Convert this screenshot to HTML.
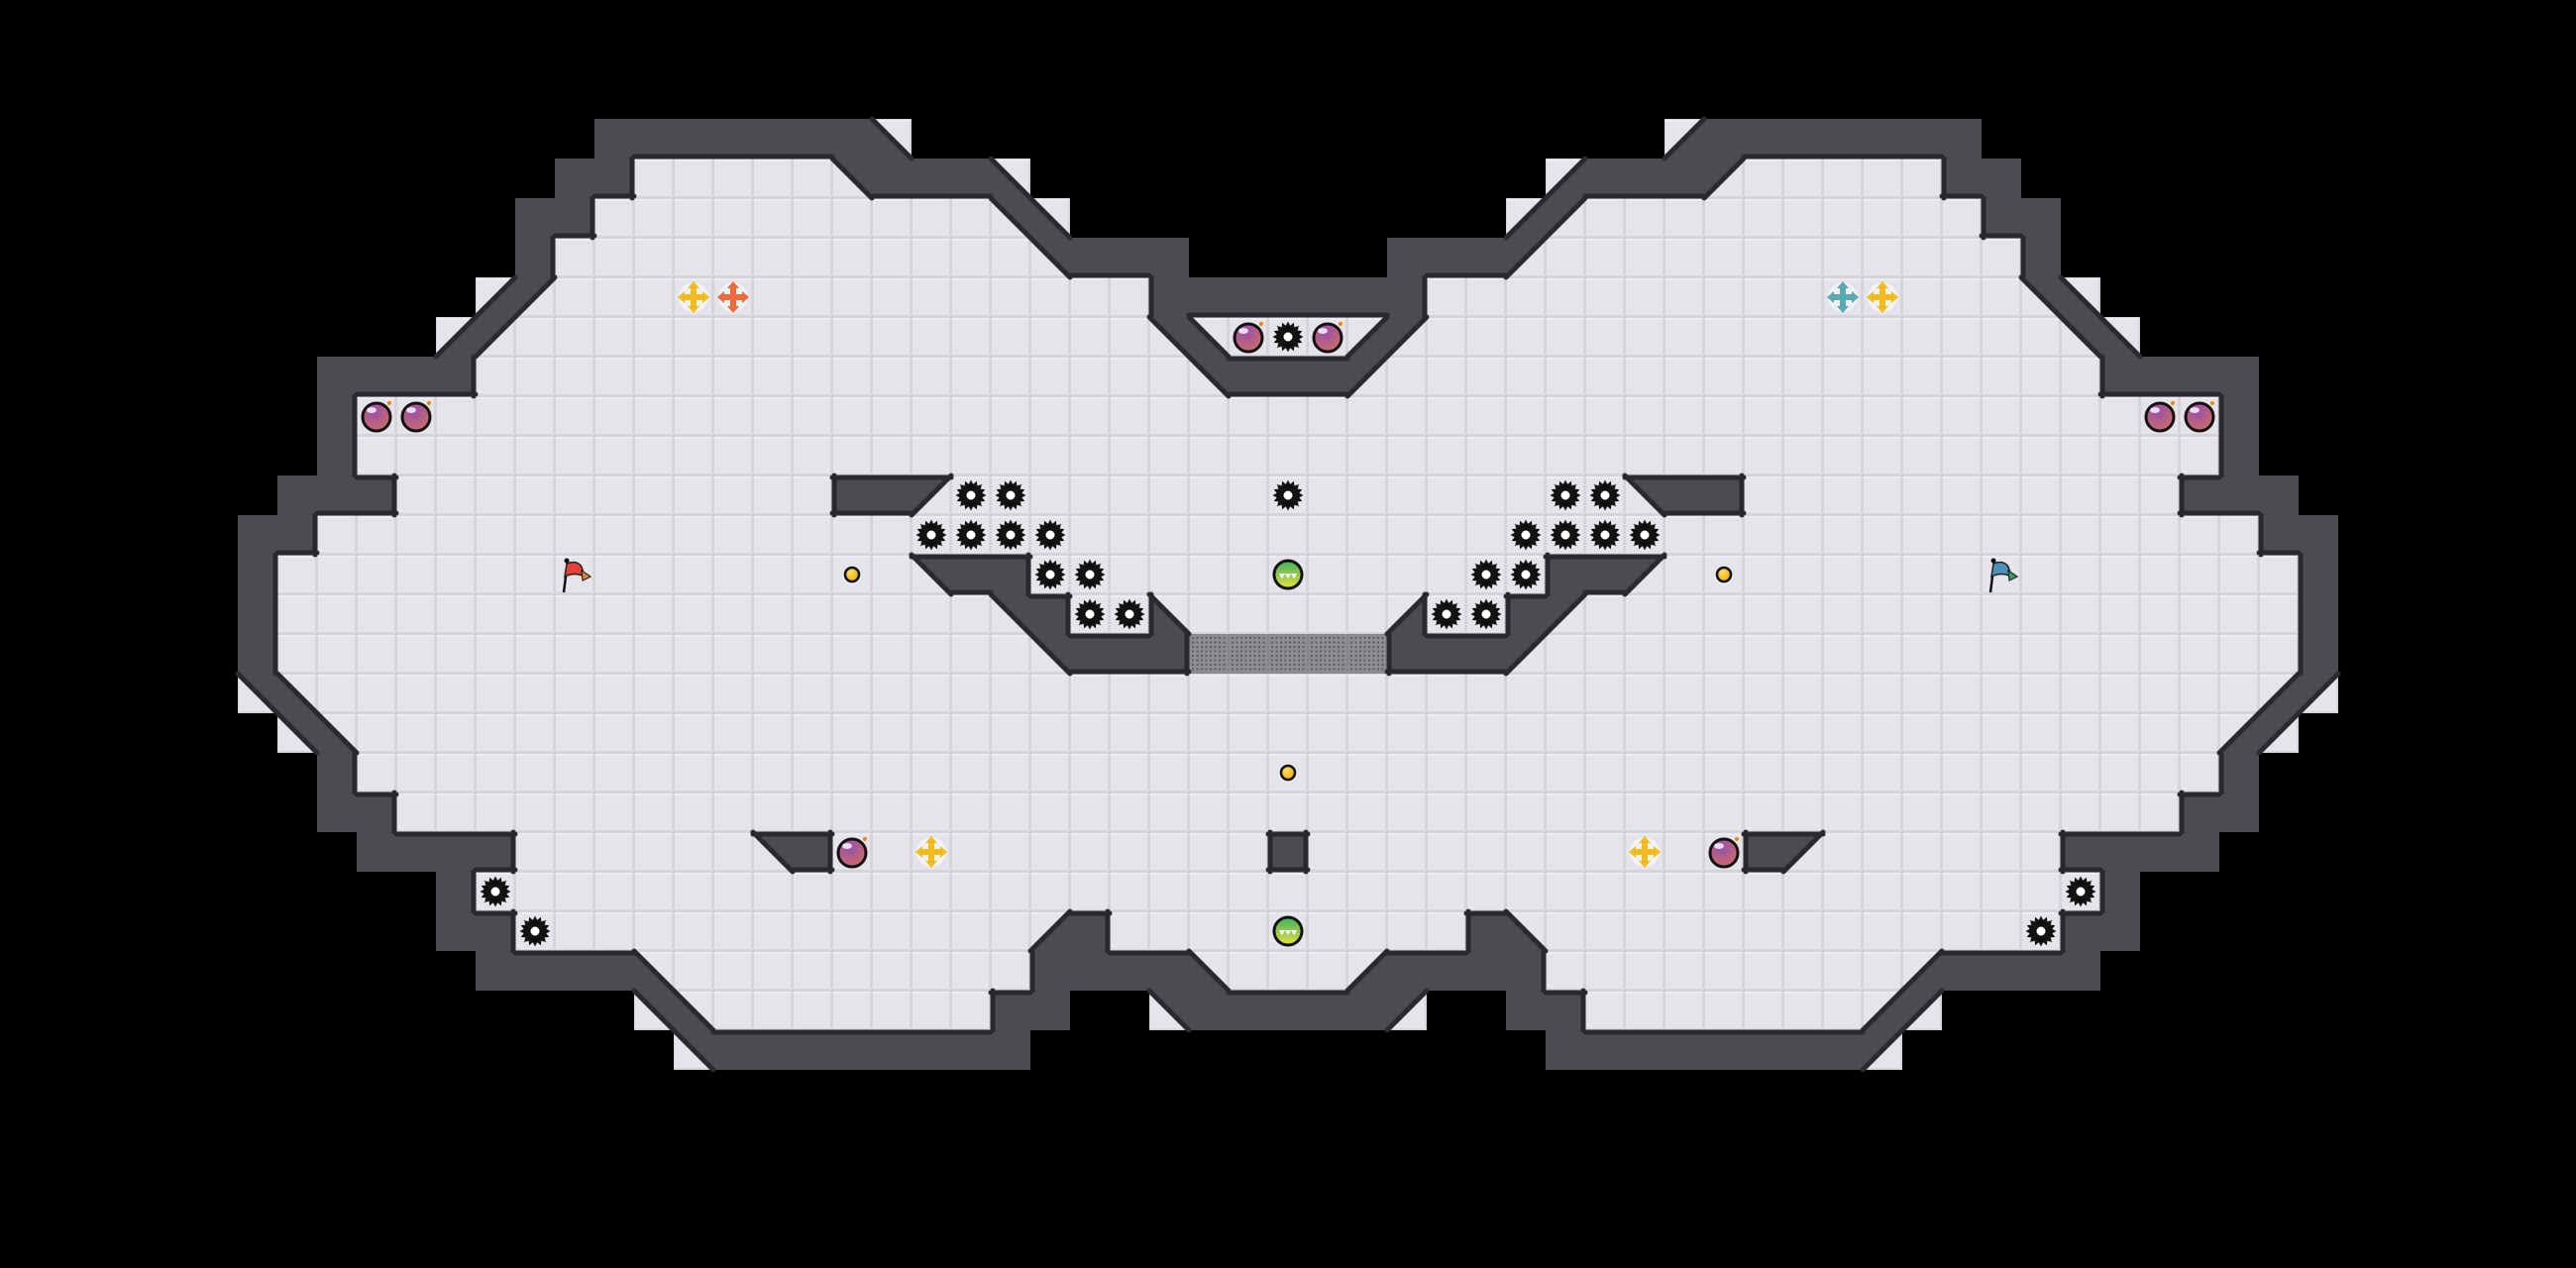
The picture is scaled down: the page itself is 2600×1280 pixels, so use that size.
<!DOCTYPE html>
<html><head><meta charset="utf-8"><style>
html,body{margin:0;padding:0;background:#000;width:2600px;height:1280px;overflow:hidden}
svg{display:block}
</style></head><body>
<svg id="s" xmlns="http://www.w3.org/2000/svg" width="2600" height="1280" viewBox="0 0 2600 1280">
<defs>
<pattern id="fl" patternUnits="userSpaceOnUse" width="40" height="40">
<rect width="40" height="40" fill="#d4d4d9"/>
<rect x="1" y="1" width="37" height="37" fill="#e4e4e9"/>
<rect x="1" y="1" width="37" height="2" fill="#ececf0"/>
</pattern>
<pattern id="gd" patternUnits="userSpaceOnUse" width="4.5" height="4.5" x="2" y="2">
<rect width="4.5" height="4.5" fill="#8e8e92"/>
<rect x="1" y="1" width="2" height="2" fill="#5e5e62"/>
</pattern>
<pattern id="gr" patternUnits="userSpaceOnUse" width="40" height="40">
<rect width="40" height="40" fill="#8a8a8e"/>
<rect x="2" y="2" width="36" height="36" fill="url(#gd)"/>
</pattern>
<radialGradient id="bomb" cx="0.4" cy="0.3" r="0.8"><stop offset="0" stop-color="#9a4fb0"/><stop offset="1" stop-color="#d0705a"/></radialGradient>
<linearGradient id="grn" x1="0" y1="0" x2="0" y2="1"><stop offset="0" stop-color="#3fb060"/><stop offset="1" stop-color="#e8e040"/></linearGradient>
<radialGradient id="dot" cx="0.4" cy="0.35" r="0.7"><stop offset="0" stop-color="#ffe060"/><stop offset="1" stop-color="#e8a800"/></radialGradient>
</defs>
<rect width="2600" height="1280" fill="#000"/>
<g id="floor"></g><g id="walls"></g><g id="lines"></g><g id="items"></g>
</svg>
<script>
var E="                                 ";
var L=[E,E,E,
"               #######b          ",
"              ##.....p###b       ",
"             ##..........pb      ",
"             #............p###   ",
"            dq...............####",
"           dq................pb..",
"        ####..................p##",
"        #........................",
"        #........................",
"       ###...........##q.........",
"      ##.........................",
"      #................p##.......",
"      #..................p#..b...",
"      #...................p###ggg",
"      pb.........................",
"       pb........................",
"        #........................",
"        ##.......................",
"         ####......p#...........#",
"           #.....................",
"           ##.............d#.....",
"            ####b.........####b..",
"                pb.......##  p###",
"                 p########       ",
E,E,E,E,E];
var W=65,H=32,T=40;
var SW={b:'d',d:'b',p:'q',q:'p'};
function get(r,c){if(r<0||r>=H||c<0||c>=W)return ' ';var row=L[r];var ch;
 if(c<=32){ch=row[c]||' ';}else{ch=row[64-c]||' ';ch=SW[ch]||ch;}return ch;}
var WE={'#':'trbl',p:'tr',q:'tl',b:'bl',d:'br'};
var fs='',ws='',ls='';
function poly(pts,fill){return '<polygon points="'+pts.map(function(p){return p[0]+','+p[1]}).join(' ')+'" fill="'+fill+'"/>';}
function line(x1,y1,x2,y2){return '<line x1="'+x1+'" y1="'+y1+'" x2="'+x2+'" y2="'+y2+'" stroke="#2a2a2e" stroke-width="5" stroke-linecap="round"/>';}
var WC='#4b4b50';
for(var r=0;r<H;r++)for(var c=0;c<W;c++){
 var ch=get(r,c),x=c*T,y=r*T;
 if(ch==' ')continue;
 var A=[x,y],B=[x+T,y],C=[x+T,y+T],D=[x,y+T];
 if(ch=='.'){fs+='<rect x="'+x+'" y="'+y+'" width="40" height="40" fill="url(#fl)"/>';continue;}
 if(ch=='g'){fs+='<rect x="'+x+'" y="'+y+'" width="40" height="40" fill="url(#gr)"/>';continue;}
 if(ch=='#'){ws+='<rect x="'+x+'" y="'+y+'" width="40" height="40" fill="'+WC+'"/>';}
 else if(ch=='p'){fs+=poly([A,D,C],'url(#fl)');ws+=poly([A,B,C],WC);ls+=line(x,y,x+T,y+T);}
 else if(ch=='q'){fs+=poly([B,C,D],'url(#fl)');ws+=poly([A,B,D],WC);ls+=line(x+T,y,x,y+T);}
 else if(ch=='b'){fs+=poly([A,B,C],'url(#fl)');ws+=poly([A,D,C],WC);ls+=line(x,y,x+T,y+T);}
 else if(ch=='d'){fs+=poly([A,B,D],'url(#fl)');ws+=poly([B,C,D],WC);ls+=line(x+T,y,x,y+T);}
 var we=WE[ch];
 var nb={t:[r-1,c,'b'],b:[r+1,c,'t'],l:[r,c-1,'r'],r:[r,c+1,'l']};
 for(var k=0;k<we.length;k++){var e=we[k],n=nb[e];var nc=get(n[0],n[1]);
  if(nc==' ')continue; var nwe=WE[nc]||''; if(nwe.indexOf(n[2])>=0)continue;
  if(e=='t')ls+=line(x,y+2,x+T,y+2); if(e=='b')ls+=line(x,y+T-2,x+T,y+T-2);
  if(e=='l')ls+=line(x+2,y,x+2,y+T); if(e=='r')ls+=line(x+T-2,y,x+T-2,y+T);}
}
document.getElementById('floor').innerHTML=fs;
document.getElementById('walls').innerHTML=ws;
document.getElementById('lines').innerHTML=ls;
function cx(c){return c*T+20} function cy(r){return r*T+20}
function spike(c,r){var x=cx(c),y=cy(r),p=[];for(var i=0;i<32;i++){var a=i*Math.PI/16,rr=(i%2?11.5:15.5);p.push((x+rr*Math.cos(a)).toFixed(1)+','+(y+rr*Math.sin(a)).toFixed(1));}
 return '<polygon points="'+p.join(' ')+'" fill="#111"/><circle cx="'+x+'" cy="'+y+'" r="4.5" fill="#fff"/>';}
function bomb(c,r){var x=cx(c),y=cy(r);return '<circle cx="'+x+'" cy="'+(y+1)+'" r="14" fill="url(#bomb)" stroke="#111" stroke-width="3"/><ellipse cx="'+(x-5)+'" cy="'+(y-6)+'" rx="5" ry="3" fill="#fff" opacity="0.8"/><circle cx="'+(x+13)+'" cy="'+(y-13)+'" r="2" fill="#f08020"/>';}
function boost(c,r,col){var x=cx(c),y=cy(r);return '<circle cx="'+x+'" cy="'+y+'" r="15" fill="#f2f2f4" opacity="0.9"/><g fill="'+col+'"><rect x="'+(x-3)+'" y="'+(y-12)+'" width="6" height="24"/><rect x="'+(x-12)+'" y="'+(y-3)+'" width="24" height="6"/><polygon points="'+x+','+(y-16)+' '+(x-6)+','+(y-9)+' '+(x+6)+','+(y-9)+'"/><polygon points="'+x+','+(y+16)+' '+(x-6)+','+(y+9)+' '+(x+6)+','+(y+9)+'"/><polygon points="'+(x-16)+','+y+' '+(x-9)+','+(y-6)+' '+(x-9)+','+(y+6)+'"/><polygon points="'+(x+16)+','+y+' '+(x+9)+','+(y-6)+' '+(x+9)+','+(y+6)+'"/></g>';}
function green(c,r){var x=cx(c),y=cy(r);return '<circle cx="'+x+'" cy="'+y+'" r="14" fill="url(#grn)" stroke="#111" stroke-width="3"/><g fill="#fff"><polygon points="'+(x-9)+','+(y-1)+' '+(x-3)+','+(y-1)+' '+(x-6)+','+(y+4)+'"/><polygon points="'+(x-3)+','+(y-1)+' '+(x+3)+','+(y-1)+' '+x+','+(y+4)+'"/><polygon points="'+(x+3)+','+(y-1)+' '+(x+9)+','+(y-1)+' '+(x+6)+','+(y+4)+'"/></g>';}
function dot(c,r){return '<circle cx="'+cx(c)+'" cy="'+cy(r)+'" r="7" fill="url(#dot)" stroke="#111" stroke-width="2.5"/>';}
function flag(c,r,col,col2){var x=c*T,y=r*T;return '<line x1="'+(x+9)+'" y1="'+(y+38)+'" x2="'+(x+13)+'" y2="'+(y+6)+'" stroke="#111" stroke-width="2.5"/><circle cx="'+(x+12)+'" cy="'+(y+6)+'" r="2.5" fill="#111"/><path d="M'+(x+12)+','+(y+9)+' Q'+(x+22)+','+(y+5)+' '+(x+27)+','+(y+12)+' L'+(x+30)+','+(y+22)+' Q'+(x+20)+','+(y+17)+' '+(x+10)+','+(y+22)+' Z" fill="'+col+'" stroke="#222" stroke-width="1.5"/><path d="M'+(x+27)+','+(y+16)+' L'+(x+36)+','+(y+22)+' L'+(x+28)+','+(y+26)+' Z" fill="'+col2+'" stroke="#222" stroke-width="1.2"/>';}
var it='';
var sp=[[24,12],[25,12],[23,13],[24,13],[25,13],[26,13],[26,14],[27,14],[27,15],[28,15],[12,22],[13,23]];
sp.forEach(function(s){it+=spike(s[0],s[1]);it+=spike(64-s[0],s[1]);});
it+=spike(32,12)+spike(32,8);
[[9,10],[10,10],[21,21],[31,8]].forEach(function(b){it+=bomb(b[0],b[1]);it+=bomb(64-b[0],b[1]);});
it+=boost(17,7,'#f4b91e')+boost(18,7,'#ee6a3a')+boost(46,7,'#5aaab4')+boost(47,7,'#f4b91e')+boost(23,21,'#f4b91e')+boost(41,21,'#f4b91e');
it+=green(32,14)+green(32,23);
it+=dot(21,14)+dot(43,14)+dot(32,19);
it+=flag(14,14,'#e8403a','#f08030')+flag(50,14,'#4a90b8','#3aa060');
document.getElementById('items').innerHTML=it;
</script>
</body></html>
